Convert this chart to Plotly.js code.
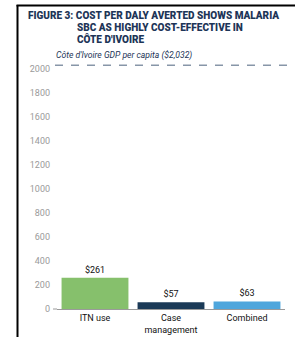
<!DOCTYPE html>
<html>
<head>
<meta charset="utf-8">
<script src="https://cdn.plot.ly/plotly-3.0.1.min.js"></script>
<style>
html,body{margin:0;padding:0;background:#fff;}
#chart{width:300px;height:337px;}
</style>
</head>
<body>
<div id="chart"></div>
<script>
const categories = ["ITN use", "Case<br>management", "Combined"];
const costs = [261, 57, 63];
const barColors = ["#86c06c", "#1b3a57", "#4fa6dc"];
const gdpPerCapita = 2032;
const gdpLabel = "Côte d'Ivoire GDP per capita ($2,032)";
const titleLines = ["FIGURE 3: COST PER DALY AVERTED SHOWS MALARIA", "SBC AS HIGHLY COST-EFFECTIVE IN", "CÔTE D'IVOIRE"];
const yTicks = [0, 200, 400, 600, 800, 1000, 1200, 1400, 1600, 1800, 2000];

const W = 300, H = 337;
const mL = 57, mR = 15, mT = 59, mB = 28;
const pw = W - mL - mR, ph = H - mT - mB;
const px = x => (x - mL) / pw;
const py = y => (H - mB - y) / ph;

const navy = "#1d3557";
const titleFont = {family: "Roboto", size: 10, color: navy, weight: 900};

const trace = {
  type: "bar",
  x: categories,
  y: costs,
  marker: {color: barColors},
  text: costs.map(v => "$" + v),
  textposition: "outside",
  textfont: {family: "Roboto", size: 9, color: "#111"},
  cliponaxis: false,
  hoverinfo: "none"
};

const layout = {
  width: W, height: H,
  margin: {l: mL, r: mR, t: mT, b: mB, pad: 0},
  paper_bgcolor: "#fff",
  plot_bgcolor: "#fff",
  showlegend: false,
  bargap: 0.12,
  font: {family: "Roboto", size: 9},
  xaxis: {
    type: "category",
    showline: true, linecolor: "#9a9a9a", linewidth: 1,
    ticks: "", showgrid: false, zeroline: false,
    tickfont: {family: "Roboto", size: 9, color: "#111"},
    fixedrange: true
  },
  yaxis: {
    range: [0, ph / 0.12],
    tickvals: yTicks,
    showgrid: false, zeroline: false, showline: false,
    ticks: "",
    ticklabelstandoff: 6,
    tickfont: {family: "Roboto", size: 9, color: "#9a9a9a"},
    fixedrange: true
  },
  shapes: [
    {type: "line", xref: "paper", yref: "y", x0: px(55), x1: px(287), y0: gdpPerCapita, y1: gdpPerCapita,
     line: {color: "#8796a8", width: 1.5, dash: "8px,8px"}},
    {type: "line", xref: "paper", yref: "paper", x0: px(17.5), x1: px(17.5), y0: py(5), y1: py(340),
     line: {color: "#000", width: 2}},
    {type: "line", xref: "paper", yref: "paper", x0: px(16.5), x1: px(295), y0: py(5.5), y1: py(5.5),
     line: {color: "#000", width: 2}},
    {type: "line", xref: "paper", yref: "paper", x0: px(53), x1: px(57), y0: 0, y1: 0,
     line: {color: "#9a9a9a", width: 1}}
  ],
  annotations: [
    {xref: "paper", yref: "paper", x: px(26), y: py(15), xanchor: "left", yanchor: "middle",
     align: "left", showarrow: false, text: titleLines[0], font: titleFont},
    {xref: "paper", yref: "paper", x: px(75), y: py(27), xanchor: "left", yanchor: "middle",
     align: "left", showarrow: false, text: titleLines[1], font: titleFont},
    {xref: "paper", yref: "paper", x: px(75), y: py(39), xanchor: "left", yanchor: "middle",
     align: "left", showarrow: false, text: titleLines[2], font: titleFont},
    {xref: "paper", yref: "paper", x: px(54), y: py(55), xanchor: "left", yanchor: "middle",
     showarrow: false,
     text: "<i>" + gdpLabel + "</i>",
     font: {family: "Roboto", size: 8.6, color: navy}}
  ]
};

Plotly.newPlot("chart", [trace], layout, {displayModeBar: false, staticPlot: true});
</script>
</body>
</html>
